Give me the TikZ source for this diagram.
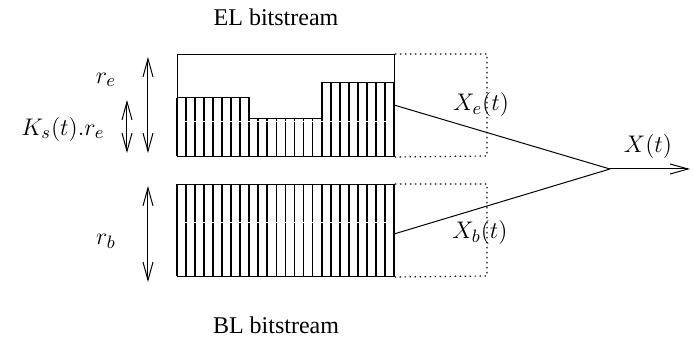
\documentclass[tikz,border=0pt]{standalone}
\usepackage{fontspec}
\setmainfont{Liberation Serif}
\usetikzlibrary{arrows.meta}
\begin{document}
\begin{tikzpicture}[x=0.5pt,y=-0.5pt,
  boxline/.style={line width=0.5pt},
  bar/.style={line width=0.9pt},
  dotline/.style={line width=0.6pt,dash pattern=on 0.7pt off 1.8pt},
  dbl/.style={line width=0.5pt,{Straight Barb[length=9pt,width=5pt]}-{Straight Barb[length=9pt,width=5pt]}},
  conn/.style={line width=0.5pt},
  lbl/.style={inner sep=0pt,font=\fontsize{12}{14}\selectfont},
  mlbl/.style={inner sep=0pt,font=\fontsize{13}{15.5}\selectfont}]
\useasboundingbox (0,0) rectangle (693,337);
% boxes
\node[boxline,draw,minimum width=108.5pt,minimum height=51pt,inner sep=0pt,anchor=north west] (EL) at (177,54) {};
\node[boxline,draw,minimum width=108.5pt,minimum height=46pt,inner sep=0pt,anchor=north west] (BL) at (177,184) {};
% EL bars
\def\w{9.04}
\foreach \k in {0,...,8} \draw[bar] (177+\k*\w,97.7) -- (177+\k*\w,156);
\foreach \k in {8,...,16} \draw[bar] (177+\k*\w,119) -- (177+\k*\w,156);
\foreach \k in {16,...,24} \draw[bar] (177+\k*\w,83) -- (177+\k*\w,156);
\draw[boxline] (177,97.7) -- (249.3,97.7) -- (249.3,119) -- (321.6,119) -- (321.6,83) -- (394,83);
\draw[white,line width=0.3pt] (178,121.7) -- (393,121.7);
% BL bars
\foreach \k in {0,...,24} \draw[bar] (177+\k*\w,184) -- (177+\k*\w,276);
\draw[white,line width=0.3pt] (178,222.7) -- (393,222.7);
% dotted extensions
\draw[dotline] (EL.north east) -- (487,54) -- (487,156) -- (EL.south east);
\draw[dotline] (BL.north east) -- (487,184) -- (487,276) -- (BL.south east);
% measure arrows
\coordinate (ret) at (148,57);
\coordinate (reb) at (148,153);
\coordinate (kt) at (127,100);
\coordinate (kb) at (127,153);
\coordinate (rbt) at (148,186);
\coordinate (rbb) at (148,282);
\draw[dbl] (ret) -- (reb);
\draw[dbl] (kt) -- (kb);
\draw[dbl] (rbt) -- (rbb);
\node[mlbl] (re) at (106,80) {$r_e$};
\node[mlbl] (ks) at (63,129) {$K_s(t).r_e$};
\node[mlbl] (rb) at (106,241) {$r_b$};
% connectors
\coordinate (eo) at (394,105);
\coordinate (bo) at (394,234);
\coordinate (J) at (610,169);
\coordinate (out) at (690,169);
\draw[conn] (eo) -- (J);
\draw[conn] (bo) -- (J);
\draw[conn,-{Straight Barb[length=9pt,width=5pt]}] (J) -- (out);
\node[mlbl] (xe) at (481,105) {$X_e(t)$};
\node[mlbl] (xb) at (480,232) {$X_b(t)$};
\node[mlbl] (x) at (648,147) {$X(t)$};
% titles
\node[lbl] (elt) at (276,17) {EL bitstream};
\node[lbl] (blt) at (276,325) {BL bitstream};
\end{tikzpicture}
\end{document}
